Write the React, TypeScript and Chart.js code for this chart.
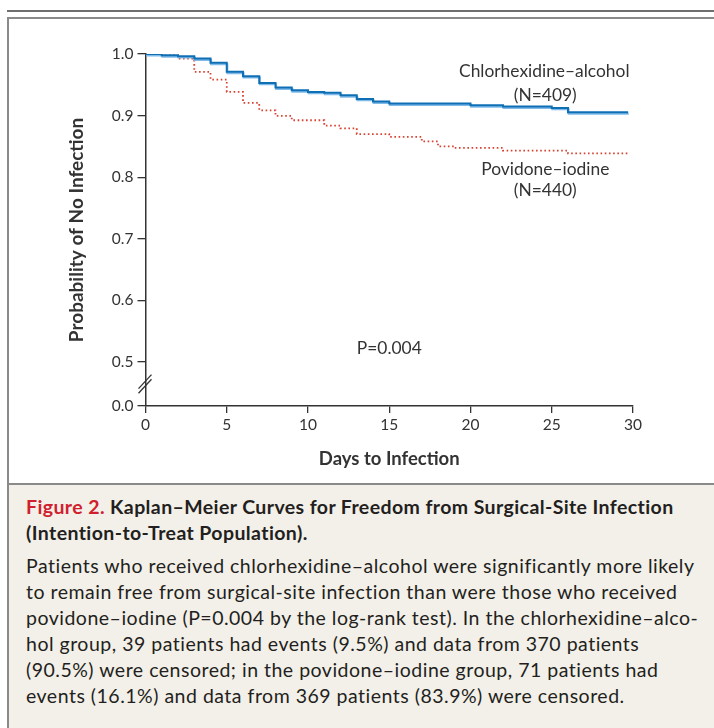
import React, { useEffect, useRef } from 'react';
import { Chart, registerables } from 'chart.js';

Chart.register(...registerables);

// ---- data ----
const chgDays = [0, 1, 2, 3, 4, 5, 6, 7, 8, 9, 10, 11, 12, 13, 14, 15, 20, 22, 25, 26, 29.7];
const chgSurv = [1.0, 0.998, 0.9964, 0.9927, 0.9857, 0.971, 0.964, 0.953, 0.9455, 0.941, 0.9385, 0.937, 0.933, 0.927, 0.9228, 0.9195, 0.9167, 0.9146, 0.9125, 0.9054, 0.9054];
const pviDays = [0, 1, 2, 3, 4, 5, 6, 7, 8, 9, 11, 12, 13, 15, 17, 18, 19, 22, 26, 29.7];
const pviSurv = [1.0, 0.9976, 0.9927, 0.971, 0.9585, 0.9385, 0.9206, 0.9086, 0.8995, 0.8924, 0.8837, 0.8794, 0.87, 0.8654, 0.858, 0.85, 0.8475, 0.843, 0.8387, 0.8387];

const Y_BREAK_MIN = 0.4285; // axis-break position standing for 0.0
const yTickValues = [Y_BREAK_MIN, 0.5, 0.6, 0.7, 0.8, 0.9, 1.0];
const yTickLabels = ['0.0', '0.5', '0.6', '0.7', '0.8', '0.9', '1.0'];
const xTickValues = [0, 5, 10, 15, 20, 25, 30];

const seriesNames = ['Chlorhexidine–alcohol', 'Povidone–iodine'];
const seriesN = ['(N=409)', '(N=440)'];
const pValueText = 'P=0.004';

const titleLines = ['Kaplan–Meier Curves for Freedom from Surgical-Site Infection', '(Intention-to-Treat Population).'];
const bodyLines = [
  'Patients who received chlorhexidine–alcohol were significantly more likely',
  'to remain free from surgical-site infection than were those who received',
  'povidone–iodine (P=0.004 by the log-rank test). In the chlorhexidine–alco-',
  'hol group, 39 patients had events (9.5%) and data from 370 patients',
  '(90.5%) were censored; in the povidone–iodine group, 71 patients had',
  'events (16.1%) and data from 369 patients (83.9%) were censored.',
];

const INK = '#333333';
const BLUE = '#0f6fb5';
const RED = '#d8402f';
const FONT = 'Lato, "Open Sans", sans-serif';

const overlayPlugin = {
  id: 'overlay',
  beforeDatasetDraw(chart: any, args: any) {
    if (args.index === 0) {
      const ctx = chart.ctx;
      ctx.save();
      ctx.shadowColor = 'rgba(120,182,232,0.95)';
      ctx.shadowOffsetY = 1.4;
      ctx.shadowOffsetX = 0.6;
      ctx.shadowBlur = 0;
    }
  },
  afterDatasetDraw(chart: any, args: any) {
    if (args.index === 0) chart.ctx.restore();
  },
  afterDraw(chart: any) {
    const { ctx } = chart;
    const xs = chart.scales.x;
    const ys = chart.scales.y;
    ctx.save();
    ctx.fillStyle = INK;
    ctx.textAlign = 'center';
    ctx.textBaseline = 'middle';
    ctx.font = `17.4px ${FONT}`;
    const labels: [string, number, number][] = [
      [seriesNames[0], 24.54, 0.9715],
      [seriesN[0], 24.6, 0.9328],
      [seriesNames[1], 24.6, 0.8122],
      [seriesN[1], 24.6, 0.778],
      [pValueText, 15, 0.5228],
    ];
    for (const [t, dx, dy] of labels) {
      ctx.fillText(t, xs.getPixelForValue(dx), ys.getPixelForValue(dy));
    }
    // axis break marks
    const ax = xs.getPixelForValue(0);
    const yb = (ys.getPixelForValue(0.5) + ys.getPixelForValue(Y_BREAK_MIN)) / 2;
    ctx.strokeStyle = INK;
    ctx.lineWidth = 1.3;
    for (const off of [-2.3, 2.3]) {
      ctx.beginPath();
      ctx.moveTo(ax - 7, yb + 7 + off);
      ctx.lineTo(ax + 6, yb - 7 + off);
      ctx.stroke();
    }
    ctx.restore();
  },
};

export default function App() {
  const ref = useRef<HTMLCanvasElement>(null);
  useEffect(() => {
    const canvas = ref.current!;
    const chart = new Chart(canvas, {
      type: 'line',
      data: {
        datasets: [
          {
            label: seriesNames[0],
            data: chgDays.map((d, i) => ({ x: d, y: chgSurv[i] })),
            borderColor: BLUE,
            borderWidth: 2,
            stepped: 'before',
            pointRadius: 0,
            fill: false,
          },
          {
            label: seriesNames[1],
            data: pviDays.map((d, i) => ({ x: d, y: pviSurv[i] })),
            borderColor: RED,
            borderWidth: 1.8,
            borderDash: [1.6, 2.6],
            stepped: 'before',
            pointRadius: 0,
            fill: false,
          },
        ],
      },
      options: {
        responsive: false,
        animation: false,
        events: [],
        layout: { padding: { top: 54, right: 81, bottom: 0, left: 0 } },
        plugins: { legend: { display: false }, tooltip: { enabled: false } },
        scales: {
          x: {
            type: 'linear',
            min: 0,
            max: 30,
            afterBuildTicks: (s: any) => {
              s.ticks = xTickValues.map((v) => ({ value: v }));
            },
            afterFit: (s: any) => {
              s.height = 77;
            },
            ticks: { color: INK, font: { family: FONT, size: 15.5 }, padding: 3, maxRotation: 0 },
            grid: { drawOnChartArea: false, drawTicks: true, tickLength: 7, color: INK, lineWidth: 1.3 },
            border: { display: true, color: INK, width: 1.5 },
            title: {
              display: true,
              text: 'Days to Infection',
              color: INK,
              font: { family: FONT, size: 18.5, weight: 'bold' },
              padding: { top: 0, bottom: 12.9 },
            },
          },
          y: {
            type: 'linear',
            min: Y_BREAK_MIN,
            max: 1.0,
            afterBuildTicks: (s: any) => {
              s.ticks = yTickValues.map((v) => ({ value: v }));
            },
            afterFit: (s: any) => {
              s.width = 145.5;
            },
            ticks: {
              color: INK,
              font: { family: FONT, size: 15.5 },
              padding: 4,
              callback: (v: any) => {
                const i = yTickValues.indexOf(Number(v));
                return i >= 0 ? yTickLabels[i] : '';
              },
            },
            grid: { drawOnChartArea: false, drawTicks: true, tickLength: 8, color: INK, lineWidth: 1.3 },
            border: { display: true, color: INK, width: 1.5 },
            title: {
              display: true,
              text: 'Probability of No Infection',
              color: INK,
              font: { family: FONT, size: 19, weight: 'bold' },
              padding: { top: 65.6, bottom: 0 },
            },
          },
        },
      },
      plugins: [overlayPlugin],
    } as any);
    return () => chart.destroy();
  }, []);

  return (
    <div style={{ position: 'absolute', left: 0, top: 0, width: 714, height: 728, overflow: 'hidden', background: '#ffffff', fontFamily: FONT }}>
      <div style={{ position: 'absolute', left: 7, top: 10, right: 0, height: 2, background: '#6e6e6e' }} />
      <div style={{ position: 'absolute', left: 7, top: 17, width: 730, height: 730, borderLeft: '2px solid #8a8a8a', borderTop: '2px solid #8a8a8a', boxSizing: 'border-box' }} />
      <div style={{ position: 'absolute', left: 9, top: 485, right: 0, bottom: 0, background: '#f3f0e9' }} />
      <div style={{ position: 'absolute', left: 9, top: 483, right: 0, height: 2, background: '#8a8a8a' }} />
      <canvas ref={ref} width={714} height={483} style={{ position: 'absolute', left: 0, top: 0, width: 714, height: 483 }} />
      <div style={{ position: 'absolute', left: 26, top: 494, fontSize: 19.5, letterSpacing: 0.4, lineHeight: '26px', fontWeight: 700, color: '#231f20', whiteSpace: 'nowrap' }}>
        <div>
          <span style={{ color: '#d0202e' }}>Figure 2.</span> {titleLines[0]}
        </div>
        <div>{titleLines[1]}</div>
      </div>
      <div style={{ position: 'absolute', left: 26, top: 553, fontSize: 19.5, letterSpacing: 0.5, lineHeight: '26px', fontWeight: 400, color: '#231f20', whiteSpace: 'nowrap' }}>
        {bodyLines.map((l, i) => (
          <div key={i}>{l}</div>
        ))}
      </div>
    </div>
  );
}
